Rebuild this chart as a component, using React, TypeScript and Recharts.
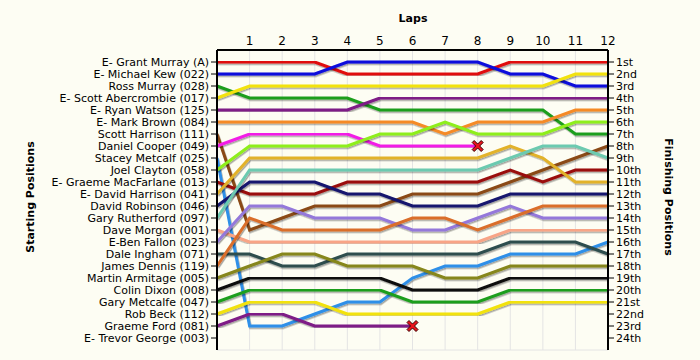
import { LineChart, Line, XAxis, YAxis, CartesianGrid } from "recharts";

// laps 0..12, position of each driver at the end of each lap (lap 0 = grid)
const laps = [0, 1, 2, 3, 4, 5, 6, 7, 8, 9, 10, 11, 12];

const drivers = [
    "E- Grant Murray (A)",
    "E- Michael Kew (022)",
    "Ross Murray (028)",
    "E- Scott Abercrombie (017)",
    "E- Ryan Watson (125)",
    "E- Mark Brown (084)",
    "Scott Harrison (111)",
    "Daniel Cooper (049)",
    "Stacey Metcalf (025)",
    "Joel Clayton (058)",
    "E- Graeme MacFarlane (013)",
    "E- David Harrison (041)",
    "David Robinson (046)",
    "Gary Rutherford (097)",
    "Dave Morgan (001)",
    "E-Ben Fallon (023)",
    "Dale Ingham (071)",
    "James Dennis (119)",
    "Martin Armitage (005)",
    "Colin Dixon (008)",
    "Gary Metcalfe (047)",
    "Rob Beck (112)",
    "Graeme Ford (081)",
    "E- Trevor George (003)",
];

const finishLabels = [
    "1st", "2nd", "3rd", "4th", "5th", "6th", "7th", "8th", "9th", "10th", "11th", "12th",
    "13th", "14th", "15th", "16th", "17th", "18th", "19th", "20th", "21st", "22nd", "23rd", "24th",
];

const grantMurray = [1, 1, 1, 1, 2, 2, 2, 2, 2, 1, 1, 1, 1];
const michaelKew = [2, 2, 2, 2, 1, 1, 1, 1, 1, 2, 2, 3, 3];
const rossMurray = [3, 4, 4, 4, 4, 5, 5, 5, 5, 5, 5, 7, 7];
const scottAbercrombie = [4, 3, 3, 3, 3, 3, 3, 3, 3, 3, 3, 2, 2];
const ryanWatson = [5, 5, 5, 5, 5, 4, 4, 4, 4, 4, 4, 4, 4];
const markBrown = [6, 6, 6, 6, 6, 6, 6, 7, 6, 6, 6, 5, 5];
const scottHarrison = [7, 15, 14, 13, 13, 13, 12, 12, 12, 11, 10, 9, 8];
const danielCooper = [8, 7, 7, 7, 7, 8, 8, 8, 8];
const staceyMetcalf = [9, 23, 23, 22, 21, 21, 19, 18, 18, 17, 17, 17, 16];
const joelClayton = [10, 8, 8, 8, 8, 7, 7, 6, 7, 7, 7, 6, 6];
const graemeMacFarlane = [11, 12, 12, 12, 11, 11, 11, 11, 11, 10, 11, 10, 10];
const davidHarrison = [12, 9, 9, 9, 9, 9, 9, 9, 9, 8, 9, 11, 11];
const davidRobinson = [13, 11, 11, 11, 12, 12, 13, 13, 13, 12, 12, 12, 12];
const garyRutherford = [14, 10, 10, 10, 10, 10, 10, 10, 10, 9, 8, 8, 9];
const daveMorgan = [15, 16, 16, 16, 16, 16, 16, 16, 16, 15, 15, 15, 15];
const benFallon = [16, 13, 13, 14, 14, 14, 15, 15, 14, 13, 14, 14, 14];
const daleIngham = [17, 17, 18, 18, 17, 17, 17, 17, 17, 16, 16, 16, 17];
const jamesDennis = [18, 14, 15, 15, 15, 15, 14, 14, 15, 14, 13, 13, 13];
const martinArmitage = [19, 18, 17, 17, 18, 18, 18, 19, 19, 18, 18, 18, 18];
const colinDixon = [20, 19, 19, 19, 19, 19, 20, 20, 20, 19, 19, 19, 19];
const garyMetcalfe = [21, 20, 20, 20, 20, 20, 21, 21, 21, 20, 20, 20, 20];
const robBeck = [22, 21, 21, 21, 22, 22, 22, 22, 22, 21, 21, 21, 21];
const graemeFord = [23, 22, 22, 23, 23, 23, 23];
const trevorGeorge: number[] = [];

const positions = [
    grantMurray, michaelKew, rossMurray, scottAbercrombie, ryanWatson, markBrown,
    scottHarrison, danielCooper, staceyMetcalf, joelClayton, graemeMacFarlane, davidHarrison,
    davidRobinson, garyRutherford, daveMorgan, benFallon, daleIngham, jamesDennis,
    martinArmitage, colinDixon, garyMetcalfe, robBeck, graemeFord, trevorGeorge,
];

const lineColors = [
    "#E01010", "#0A0ADC", "#1E9E1E", "#F2E20A", "#7E1A86", "#F58A26",
    "#8A4A14", "#F21EE6", "#2E8FE8", "#8EEE1A", "#9A0C0C", "#E2B22A",
    "#14146E", "#6CCAB0", "#F8A486", "#9478DA", "#2E4E4E", "#DA6E2C",
    "#86861A", "#111111", "#1E9E1E", "#F2E20A", "#7E1A86", "#888888",
];

const rows = laps.map((lap, i) => {
    const row: Record<string, number | null> = { lap };
    positions.forEach((p, d) => {
        row["d" + d] = i < p.length ? p[i] : null;
    });
    return row;
});

const rowTicks = drivers.map((_, i) => i + 1);
const font = "'DejaVu Sans', Verdana, sans-serif";

// red cross where a driver retired
function RetiredMark({ cx, cy }: { cx: number; cy: number }) {
    const s = 5.5;
    const w = 2;
    const pts = [
        [-s, -s + w], [-s + w, -s], [0, -w], [s - w, -s], [s, -s + w], [w, 0],
        [s, s - w], [s - w, s], [0, w], [-s + w, s], [-s, s - w], [-w, 0],
    ].map(([x, y]) => `${cx + x},${cy + y}`).join(" ");
    return <polygon points={pts} fill="#E8141C" stroke="#3A0000" strokeWidth={1} />;
}

export default function App() {
    return (
        <div style={{ position: "absolute", left: 0, top: 0, width: 700, height: 360, background: "#FDFDF3", fontFamily: font }}>
            <LineChart
                width={700}
                height={360}
                data={rows}
                margin={{ top: 22, right: 12, left: 17, bottom: 10 }}
            >
                <defs>
                    <filter id="lineShadow" x="-5%" y="-5%" width="110%" height="120%">
                        <feDropShadow dx="1" dy="1.5" stdDeviation="0.4" floodColor="#000" floodOpacity="0.35" />
                    </filter>
                </defs>
                <CartesianGrid stroke="#E4E4E4" strokeWidth={1} />
                <XAxis
                    dataKey="lap"
                    type="number"
                    orientation="top"
                    domain={[0, 12]}
                    ticks={laps}
                    tickFormatter={(v) => (v === 0 ? "" : String(v))}
                    height={28}
                    tickLine={false}
                    tickSize={2}
                    tickMargin={3}
                    axisLine={{ stroke: "#000", strokeWidth: 2 }}
                    tick={{ fontSize: 12, fill: "#000", fontFamily: font }}
                />
                <YAxis
                    yAxisId="start"
                    orientation="left"
                    type="number"
                    domain={[0, 25]}
                    reversed
                    ticks={rowTicks}
                    interval={0}
                    width={200}
                    tickFormatter={(v) => drivers[v - 1] ?? ""}
                    tickLine={{ stroke: "#000" }}
                    axisLine={{ stroke: "#000", strokeWidth: 2 }}
                    tick={{ fontSize: 11, fill: "#000", fontFamily: font }}
                />
                <YAxis
                    yAxisId="finish"
                    orientation="right"
                    type="number"
                    domain={[0, 25]}
                    reversed
                    ticks={rowTicks}
                    interval={0}
                    width={80}
                    tickFormatter={(v) => finishLabels[v - 1] ?? ""}
                    tickLine={{ stroke: "#000" }}
                    axisLine={{ stroke: "#000", strokeWidth: 2 }}
                    tick={{ fontSize: 11, fill: "#000", fontFamily: font }}
                />
                {positions.map((p, d) =>
                    p.length === 0 ? null : (
                        <Line
                            key={d}
                            yAxisId={d === 0 ? "finish" : "start"}
                            dataKey={"d" + d}
                            name={drivers[d]}
                            type="linear"
                            stroke={lineColors[d]}
                            strokeWidth={3}
                            filter="url(#lineShadow)"
                            connectNulls={false}
                            isAnimationActive={false}
                            activeDot={false}
                            dot={(props: any) =>
                                p.length < laps.length && props.index === p.length - 1 ? (
                                    <RetiredMark key={"x" + d} cx={props.cx} cy={props.cy} />
                                ) : (
                                    <g key={"n" + d + "-" + props.index} />
                                )
                            }
                        />
                    )
                )}
            </LineChart>
            <div style={{ position: "absolute", left: 413, top: 18, transform: "translate(-50%, -50%)", fontSize: 11, fontWeight: "bold", whiteSpace: "nowrap" }}>
                Laps
            </div>
            <div style={{ position: "absolute", left: 30, top: 197, transform: "translate(-50%, -50%) rotate(-90deg)", fontSize: 11, fontWeight: "bold", whiteSpace: "nowrap" }}>
                Starting Positions
            </div>
            <div style={{ position: "absolute", left: 668, top: 197, transform: "translate(-50%, -50%) rotate(90deg)", fontSize: 11, fontWeight: "bold", whiteSpace: "nowrap" }}>
                Finishing Positions
            </div>
        </div>
    );
}
